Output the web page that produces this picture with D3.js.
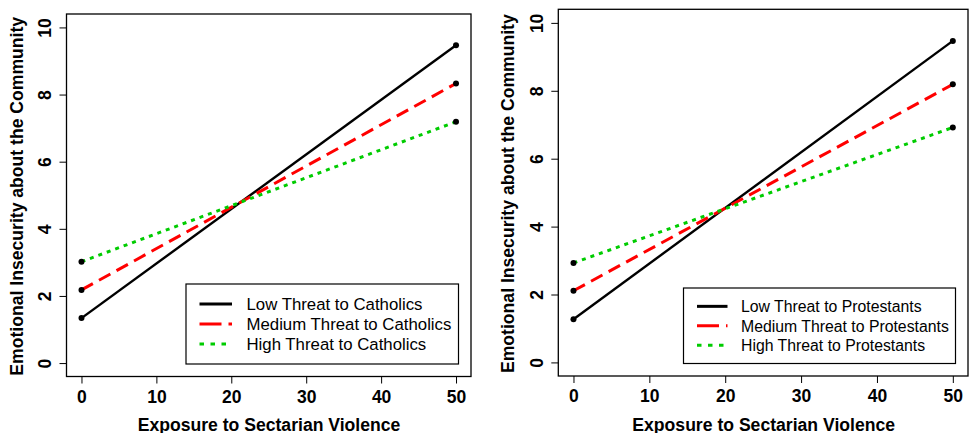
<!DOCTYPE html>
<html><head><meta charset="utf-8">
<script src="https://cdn.jsdelivr.net/npm/d3@7/dist/d3.min.js"></script>
<style>
html,body{margin:0;padding:0;background:#fff;}
svg{display:block;font-family:"Liberation Sans",Arial,Helvetica,sans-serif;}
</style></head>
<body><svg id="chart" width="969" height="433"></svg>
<script>
// ---- data ----
const xValues = [0, 50];
const xTicks = [0, 10, 20, 30, 40, 50];
const yTicks = [0, 2, 4, 6, 8, 10];
const xTitle = "Exposure to Sectarian Violence";
const yTitle = "Emotional Insecurity about the Community";

const catholicLow = [1.34, 9.47];
const catholicMedium = [2.18, 8.33];
const catholicHigh = [3.02, 7.19];
const catholicLabels = ["Low Threat to Catholics", "Medium Threat to Catholics", "High Threat to Catholics"];

const protestantLow = [1.27, 9.47];
const protestantMedium = [2.11, 8.19];
const protestantHigh = [2.93, 6.92];
const protestantLabels = ["Low Threat to Protestants", "Medium Threat to Protestants", "High Threat to Protestants"];

// ---- styles ----
const seriesStyles = [
  {color: "#000000", width: 2.4, dash: null, legendDash: null},
  {color: "#ff0000", width: 3, dash: "13,7", legendDash: "22,7"},
  {color: "#00cc00", width: 3, dash: "4,5", legendDash: "4.5,6.5"}
];

const panels = [
  {series: [catholicLow, catholicMedium, catholicHigh], labels: catholicLabels,
   box: {x0: 66.5, x1: 471, y0: 14, y1: 376.5}, tickFont: 17.5, titleFont: 17.6,
   yTickX: 50.5, yTitleX: 22.5, xTitleX: 269,
   legend: {w: 272.5, h: 80, row: 20, lineX0: 13.5, lineX1: 46, textX: 60.5, font: 16.8}},
  {series: [protestantLow, protestantMedium, protestantHigh], labels: protestantLabels,
   box: {x0: 558.3, x1: 968, y0: 9.3, y1: 376}, tickFont: 17.5, titleFont: 17.6,
   yTickX: 542.5, yTitleX: 514, xTitleX: 763.7,
   legend: {w: 272, h: 75.5, row: 19.4, lineX0: 13.5, lineX1: 44, textX: 57.5, font: 15.8}}
];

const svg = d3.select("#chart");

panels.forEach(p => {
  const b = p.box;
  const x = d3.scaleLinear().domain([-2, 52]).range([b.x0, b.x1]);
  const y = d3.scaleLinear().domain([-0.4, 10.4]).range([b.y1, b.y0]);
  const g = svg.append("g");

  // box
  g.append("rect").attr("x", b.x0).attr("y", b.y0)
    .attr("width", b.x1 - b.x0).attr("height", b.y1 - b.y0)
    .attr("fill", "none").attr("stroke", "#000").attr("stroke-width", 1.3);

  // x axis
  const xAxis = d3.axisBottom(x).tickValues(xTicks).tickSize(7).tickPadding(8).tickFormat(d3.format("d"));
  const xa = g.append("g").attr("transform", `translate(0,${b.y1})`).call(xAxis);
  xa.select(".domain").remove();
  xa.selectAll(".tick line").attr("stroke", "#000").attr("stroke-width", 1);
  xa.selectAll(".tick text").attr("font-size", p.tickFont + "px").attr("font-weight", "bold")
    .attr("fill", "#000").attr("dy", null).attr("y", 26.3)
    .style("font-family", '"Liberation Sans",Arial,sans-serif');

  // y axis
  const yAxis = d3.axisLeft(y).tickValues(yTicks).tickSize(7).tickFormat(d3.format("d"));
  const ya = g.append("g").attr("transform", `translate(${b.x0},0)`).call(yAxis);
  ya.select(".domain").remove();
  ya.selectAll(".tick line").attr("stroke", "#000").attr("stroke-width", 1);
  ya.selectAll(".tick text").remove();
  ya.selectAll(".tick").append("text")
    .attr("transform", `translate(${p.yTickX - b.x0},0) rotate(-90)`)
    .attr("text-anchor", "middle").attr("fill", "#000")
    .attr("font-size", p.tickFont + "px").attr("font-weight", "bold")
    .style("font-family", '"Liberation Sans",Arial,sans-serif')
    .text(d => d);

  // titles
  g.append("text").attr("x", p.xTitleX).attr("y", 430.5).attr("text-anchor", "middle")
    .attr("font-size", p.titleFont + "px").attr("font-weight", "bold").text(xTitle);
  g.append("text").attr("transform", `translate(${p.yTitleX},${(b.y0 + b.y1) / 2 + 1}) rotate(-90)`)
    .attr("text-anchor", "middle").attr("font-size", p.titleFont + "px").attr("font-weight", "bold").text(yTitle);

  // lines
  p.series.forEach((vals, i) => {
    const st = seriesStyles[i];
    const pts = xValues.map((xv, k) => [xv, vals[k]]);
    g.append("path").datum(pts)
      .attr("d", d3.line().x(d => x(d[0])).y(d => y(d[1])))
      .attr("fill", "none").attr("stroke", st.color).attr("stroke-width", st.width)
      .attr("stroke-dasharray", st.dash);
    g.selectAll(null).data(pts).enter().append("circle")
      .attr("cx", d => x(d[0])).attr("cy", d => y(d[1])).attr("r", 3).attr("fill", "#000");
  });

  // legend (bottom right)
  const L = p.legend;
  const lx = b.x1 - 12.5 - L.w, ly = b.y1 - 12.5 - L.h;
  const lg = g.append("g").attr("transform", `translate(${lx},${ly})`);
  lg.append("rect").attr("width", L.w).attr("height", L.h)
    .attr("fill", "#fff").attr("stroke", "#000").attr("stroke-width", 1.2);
  p.labels.forEach((lab, i) => {
    const st = seriesStyles[i];
    const ry = L.h / 2 + (i - 1) * L.row;
    lg.append("line").attr("x1", L.lineX0).attr("x2", L.lineX1).attr("y1", ry).attr("y2", ry)
      .attr("stroke", st.color).attr("stroke-width", st.width + (i === 0 ? 0.6 : 0)).attr("stroke-dasharray", st.legendDash);
    lg.append("text").attr("x", L.textX).attr("y", ry + 5.8).attr("font-size", L.font + "px").attr("fill", "#000").text(lab);
  });
});
</script>
</body></html>
